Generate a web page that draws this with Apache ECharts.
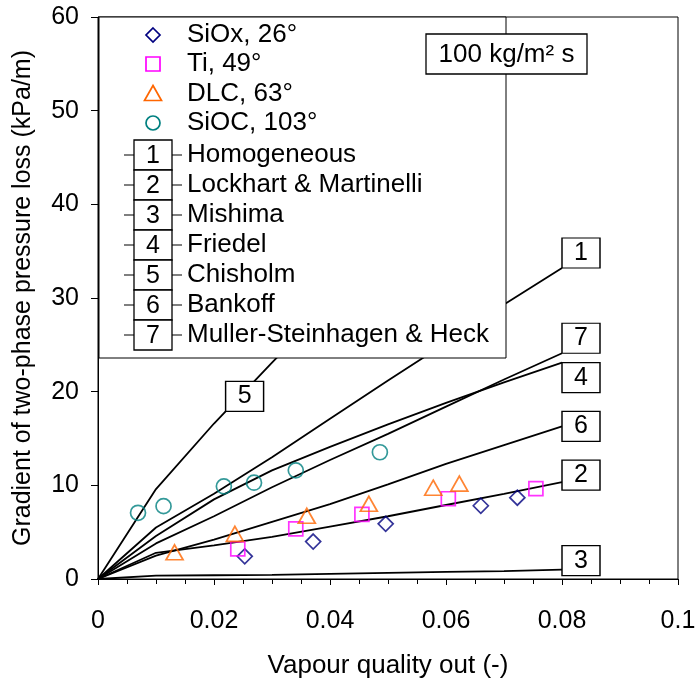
<!DOCTYPE html>
<html><head><meta charset="utf-8">
<script src="https://cdn.jsdelivr.net/npm/echarts@6/dist/echarts.min.js"></script>
<style>html,body{margin:0;padding:0;background:#fff}#c{width:696px;height:681px}</style>
</head><body><div id="c"></div>
<script>
// ---- data ----
const xTicks = [0, 0.02, 0.04, 0.06, 0.08, 0.1];
const yTicks = [0, 10, 20, 30, 40, 50, 60];
const siox = [[0.0253,2.42],[0.0371,4.0],[0.0496,5.89],[0.0660,7.82],[0.0723,8.68]];
const ti   = [[0.0241,3.21],[0.0341,5.36],[0.0455,6.89],[0.0604,8.57],[0.0755,9.64]];
const dlc  = [[0.0132,2.85],[0.0236,4.82],[0.0360,6.75],[0.0467,8.03],[0.0578,9.75],[0.0623,10.18]];
const sioc = [[0.0069,7.07],[0.0113,7.78],[0.0217,9.89],[0.0269,10.28],[0.0341,11.6],[0.0486,13.53]];
const modelX      = [0, 0.01, 0.02, 0.03, 0.04, 0.05, 0.06, 0.07, 0.08];
const homogeneous = [0, 5.5, 9.1, 13.0, 17.1, 21.2, 25.2, 29.3, 33.2];
const lockhart    = [0, 2.8, 3.6, 4.5, 5.6, 6.7, 7.9, 9.1, 10.35];
const mishima     = [0, 0.35, 0.4, 0.45, 0.55, 0.65, 0.75, 0.85, 1.0];
const friedel     = [0, 4.6, 8.5, 11.6, 14.1, 16.5, 18.8, 21.0, 23.1];
const chisholmX   = [0, 0.01, 0.02, 0.03, 0.04, 0.05, 0.06];
const chisholm    = [0, 9.6, 16.6, 23.1, 29.5, 35.5, 41.5];
const bankoff     = [0, 2.5, 4.2, 6.1, 8.0, 10.1, 12.3, 14.3, 16.3];
const msh         = [0, 3.8, 6.7, 9.8, 12.7, 15.5, 18.4, 21.3, 24.1];
const expNames = ['SiOx, 26°', 'Ti, 49°', 'DLC, 63°', 'SiOC, 103°'];
const modelNames = ['Homogeneous', 'Lockhart & Martinelli', 'Mishima', 'Friedel', 'Chisholm', 'Bankoff', 'Muller-Steinhagen & Heck'];
const chisholmLabelX = 0.022;

// ---- build ----
const FONT = 'Liberation Sans';
const zip = (xs, ys) => ys.map((y, i) => [xs[i], y]);
function interp(xs, ys, x) {
  for (let i = 1; i < xs.length; i++) if (x <= xs[i]) { const t = (x - xs[i-1]) / (xs[i] - xs[i-1]); return ys[i-1] + t * (ys[i] - ys[i-1]); }
  return ys[ys.length - 1];
}
const models = [
  { n: '1', name: modelNames[0], xs: modelX, ys: homogeneous, off: [19, -15] },
  { n: '2', name: modelNames[1], xs: modelX, ys: lockhart, off: [19, -7] },
  { n: '3', name: modelNames[2], xs: modelX, ys: mishima, off: [19, -9] },
  { n: '4', name: modelNames[3], xs: modelX, ys: friedel, off: [19, 15] },
  { n: '5', name: modelNames[4], xs: chisholmX, ys: chisholm, off: [19, -15], at: chisholmLabelX },
  { n: '6', name: modelNames[5], xs: modelX, ys: bankoff, off: [19, 0] },
  { n: '7', name: modelNames[6], xs: modelX, ys: msh, off: [19, -15] }
];
const series = [];
models.forEach(m => {
  const lx = m.at !== undefined ? m.at : m.xs[m.xs.length - 1];
  const ly = m.at !== undefined ? interp(m.xs, m.ys, m.at) : m.ys[m.ys.length - 1];
  series.push({
    type: 'line', name: m.name, data: zip(m.xs, m.ys), symbol: 'none', z: 2,
    lineStyle: { color: '#000', width: 1.8 },
    markPoint: {
      symbol: 'rect', symbolSize: [38, 30], symbolOffset: m.off, silent: true,
      itemStyle: { color: '#fff', borderColor: '#000', borderWidth: 1.3 },
      label: { show: true, position: 'inside', formatter: m.n, color: '#000', fontSize: 25, fontFamily: FONT },
      data: [{ coord: [lx, ly] }]
    }
  });
});
const exp = [
  { d: siox, sym: 'diamond', size: 15, c: '#000080' },
  { d: ti, sym: 'rect', size: 14, c: '#FF00FF' },
  { d: dlc, sym: 'triangle', size: [17, 15], c: '#FF6600' },
  { d: sioc, sym: 'circle', size: 15, c: '#008080' }
];
exp.forEach((e, i) => series.push({
  type: 'scatter', name: expNames[i], data: e.d, symbol: e.sym, symbolSize: e.size, z: 5,
  itemStyle: { color: 'rgba(0,0,0,0)', borderColor: e.c, borderWidth: 1.7 }
}));

// legend drawn as graphic
const LF = '26px "' + FONT + '"';
const g = [];
g.push({ type: 'rect', z: 50, shape: { x: 99, y: 17, width: 407, height: 341 }, style: { fill: '#fff', stroke: '#000', lineWidth: 1 } });
const symY = [35, 64, 93.5, 123];
const sx = 153;
g.push({ type: 'polygon', z: 51, shape: { points: [[sx, symY[0]-7], [sx+7, symY[0]], [sx, symY[0]+7], [sx-7, symY[0]]] }, style: { fill: 'none', stroke: exp[0].c, lineWidth: 1.7 } });
g.push({ type: 'rect', z: 51, shape: { x: sx-7, y: symY[1]-7, width: 14, height: 14 }, style: { fill: 'none', stroke: exp[1].c, lineWidth: 1.7 } });
g.push({ type: 'polygon', z: 51, shape: { points: [[sx, symY[2]-8], [sx+8.5, symY[2]+7], [sx-8.5, symY[2]+7]] }, style: { fill: 'none', stroke: exp[2].c, lineWidth: 1.7 } });
g.push({ type: 'circle', z: 51, shape: { cx: sx, cy: symY[3], r: 7 }, style: { fill: 'none', stroke: exp[3].c, lineWidth: 1.7 } });
expNames.forEach((t, i) => g.push({ type: 'text', z: 52, style: { text: t, x: 187, y: symY[i], verticalAlign: 'middle', align: 'left', font: LF, fill: '#000' } }));
models.forEach((m, i) => {
  const cy = 155 + 30 * i;
  g.push({ type: 'line', z: 51, shape: { x1: 124, y1: cy, x2: 182, y2: cy }, style: { stroke: '#000', lineWidth: 1.2 } });
  g.push({ type: 'rect', z: 52, shape: { x: 134, y: cy - 15, width: 38, height: 30 }, style: { fill: '#fff', stroke: '#000', lineWidth: 1.3 } });
  g.push({ type: 'text', z: 53, style: { text: m.n, x: 153, y: cy + 1, verticalAlign: 'middle', align: 'center', font: '25px "' + FONT + '"', fill: '#000' } });
  g.push({ type: 'text', z: 53, style: { text: m.name, x: 187, y: cy, verticalAlign: 'middle', align: 'left', font: LF, fill: '#000' } });
});
g.push({ type: 'rect', z: 60, shape: { x: 426, y: 34, width: 161, height: 40 }, style: { fill: '#fff', stroke: '#000', lineWidth: 1.3 } });
g.push({ type: 'text', z: 61, style: { text: '100 kg/m² s', x: 506.5, y: 55, verticalAlign: 'middle', align: 'center', font: LF, fill: '#000' } });

const chart = echarts.init(document.getElementById('c'));
chart.setOption({
  animation: false,
  backgroundColor: '#fff',
  grid: { left: 98, right: 18, top: 17, bottom: 102, outerBoundsMode: 'none', containLabel: false, show: true, borderColor: '#000', borderWidth: 1, backgroundColor: 'transparent' },
  xAxis: {
    type: 'value', min: xTicks[0], max: xTicks[xTicks.length - 1], interval: xTicks[1] - xTicks[0],
    name: 'Vapour quality out (-)', nameLocation: 'middle', nameGap: 74,
    nameTextStyle: { fontSize: 26, fontFamily: FONT, color: '#000' },
    axisLine: { lineStyle: { color: '#000', width: 1 } },
    axisTick: { length: 6, lineStyle: { color: '#000' } },
    minorTick: { show: true, splitNumber: 4, length: 5, lineStyle: { color: '#000' } },
    splitLine: { show: false },
    axisLabel: { fontSize: 25, fontFamily: FONT, color: '#000', margin: 30, formatter: v => String(+v.toFixed(2)) }
  },
  yAxis: {
    type: 'value', min: yTicks[0], max: yTicks[yTicks.length - 1], interval: yTicks[1] - yTicks[0],
    name: 'Gradient of two-phase pressure loss (kPa/m)', nameLocation: 'middle', nameGap: 62,
    nameTextStyle: { fontSize: 25, fontFamily: FONT, color: '#000' },
    axisLine: { show: true, lineStyle: { color: '#000', width: 1 } },
    axisTick: { show: true, length: 7, lineStyle: { color: '#000' } },
    splitLine: { show: false },
    axisLabel: { fontSize: 25, fontFamily: FONT, color: '#000', margin: 19 }
  },
  series: series,
  graphic: g
});
</script></body></html>
